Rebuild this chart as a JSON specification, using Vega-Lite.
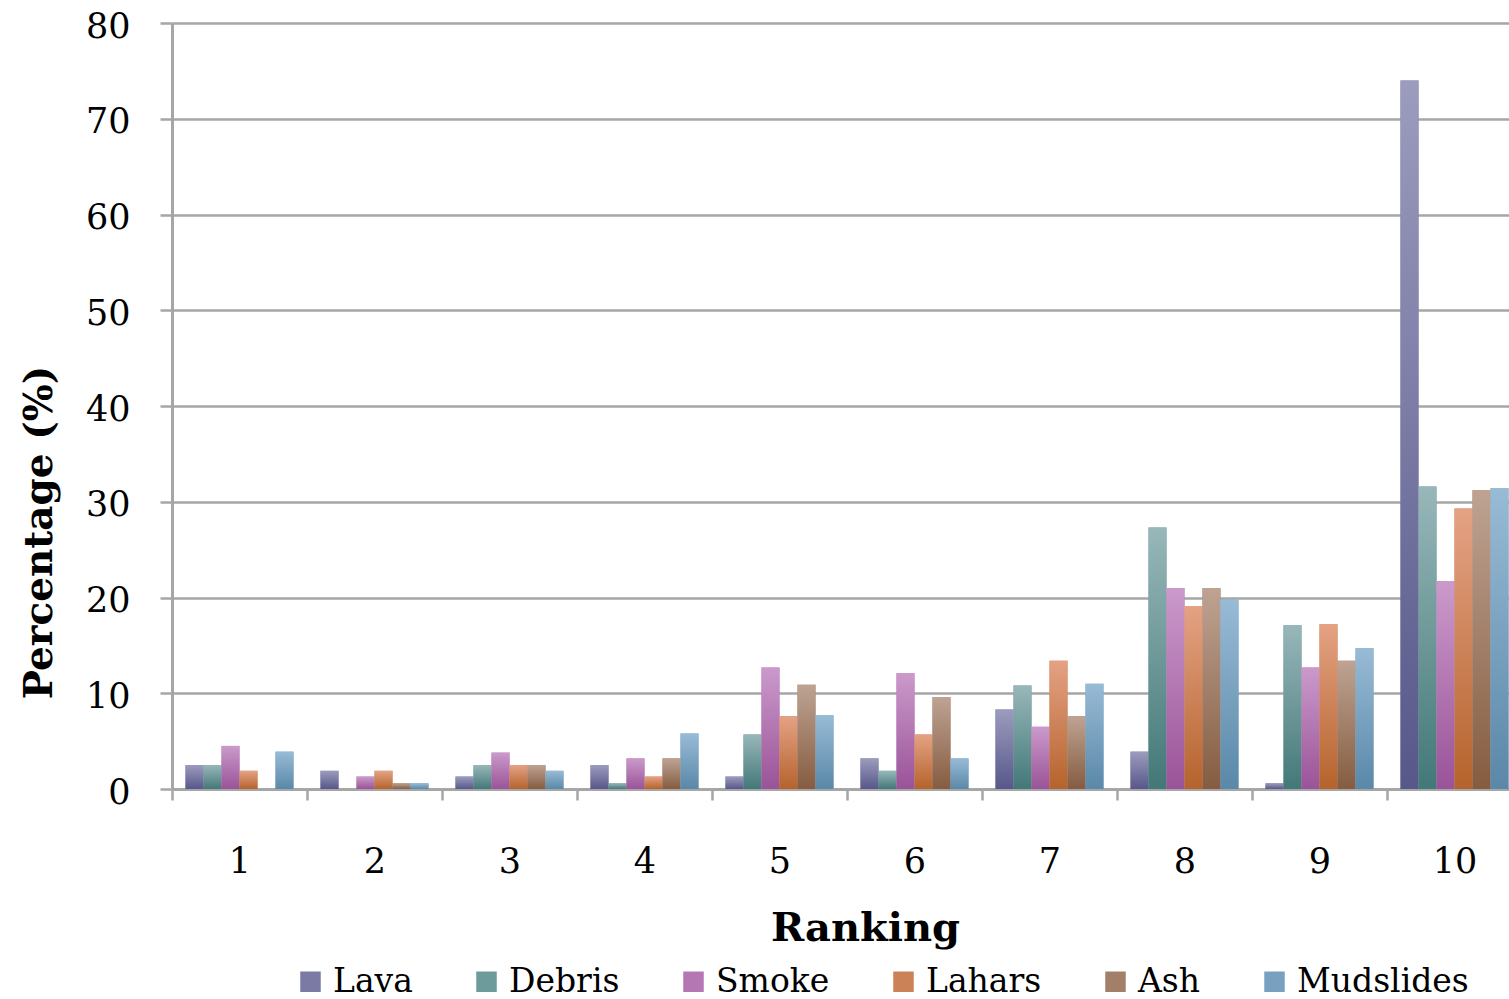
{
  "$schema": "https://vega.github.io/schema/vega-lite/v6.json",
  "autosize": "none",
  "padding": {"left": 172, "top": 23, "right": 0, "bottom": 210},
  "width": 1337,
  "height": 766,
  "background": "white",
  "config": {
    "font": "DejaVu Serif",
    "view": {"stroke": null}
  },
  "data": {
    "values": [
      {"Ranking": "1", "Hazard": "Lava", "Percentage": 2.5},
      {"Ranking": "1", "Hazard": "Debris", "Percentage": 2.5},
      {"Ranking": "1", "Hazard": "Smoke", "Percentage": 4.5},
      {"Ranking": "1", "Hazard": "Lahars", "Percentage": 1.9},
      {"Ranking": "1", "Hazard": "Ash", "Percentage": 0},
      {"Ranking": "1", "Hazard": "Mudslides", "Percentage": 3.9},
      {"Ranking": "2", "Hazard": "Lava", "Percentage": 1.9},
      {"Ranking": "2", "Hazard": "Debris", "Percentage": 0},
      {"Ranking": "2", "Hazard": "Smoke", "Percentage": 1.3},
      {"Ranking": "2", "Hazard": "Lahars", "Percentage": 1.9},
      {"Ranking": "2", "Hazard": "Ash", "Percentage": 0.6},
      {"Ranking": "2", "Hazard": "Mudslides", "Percentage": 0.6},
      {"Ranking": "3", "Hazard": "Lava", "Percentage": 1.3},
      {"Ranking": "3", "Hazard": "Debris", "Percentage": 2.5},
      {"Ranking": "3", "Hazard": "Smoke", "Percentage": 3.8},
      {"Ranking": "3", "Hazard": "Lahars", "Percentage": 2.5},
      {"Ranking": "3", "Hazard": "Ash", "Percentage": 2.5},
      {"Ranking": "3", "Hazard": "Mudslides", "Percentage": 1.9},
      {"Ranking": "4", "Hazard": "Lava", "Percentage": 2.5},
      {"Ranking": "4", "Hazard": "Debris", "Percentage": 0.6},
      {"Ranking": "4", "Hazard": "Smoke", "Percentage": 3.2},
      {"Ranking": "4", "Hazard": "Lahars", "Percentage": 1.3},
      {"Ranking": "4", "Hazard": "Ash", "Percentage": 3.2},
      {"Ranking": "4", "Hazard": "Mudslides", "Percentage": 5.8},
      {"Ranking": "5", "Hazard": "Lava", "Percentage": 1.3},
      {"Ranking": "5", "Hazard": "Debris", "Percentage": 5.7},
      {"Ranking": "5", "Hazard": "Smoke", "Percentage": 12.7},
      {"Ranking": "5", "Hazard": "Lahars", "Percentage": 7.6},
      {"Ranking": "5", "Hazard": "Ash", "Percentage": 10.9},
      {"Ranking": "5", "Hazard": "Mudslides", "Percentage": 7.7},
      {"Ranking": "6", "Hazard": "Lava", "Percentage": 3.2},
      {"Ranking": "6", "Hazard": "Debris", "Percentage": 1.9},
      {"Ranking": "6", "Hazard": "Smoke", "Percentage": 12.1},
      {"Ranking": "6", "Hazard": "Lahars", "Percentage": 5.7},
      {"Ranking": "6", "Hazard": "Ash", "Percentage": 9.6},
      {"Ranking": "6", "Hazard": "Mudslides", "Percentage": 3.2},
      {"Ranking": "7", "Hazard": "Lava", "Percentage": 8.3},
      {"Ranking": "7", "Hazard": "Debris", "Percentage": 10.8},
      {"Ranking": "7", "Hazard": "Smoke", "Percentage": 6.5},
      {"Ranking": "7", "Hazard": "Lahars", "Percentage": 13.4},
      {"Ranking": "7", "Hazard": "Ash", "Percentage": 7.6},
      {"Ranking": "7", "Hazard": "Mudslides", "Percentage": 11.0},
      {"Ranking": "8", "Hazard": "Lava", "Percentage": 3.9},
      {"Ranking": "8", "Hazard": "Debris", "Percentage": 27.3},
      {"Ranking": "8", "Hazard": "Smoke", "Percentage": 21.0},
      {"Ranking": "8", "Hazard": "Lahars", "Percentage": 19.1},
      {"Ranking": "8", "Hazard": "Ash", "Percentage": 21.0},
      {"Ranking": "8", "Hazard": "Mudslides", "Percentage": 19.8},
      {"Ranking": "9", "Hazard": "Lava", "Percentage": 0.6},
      {"Ranking": "9", "Hazard": "Debris", "Percentage": 17.1},
      {"Ranking": "9", "Hazard": "Smoke", "Percentage": 12.7},
      {"Ranking": "9", "Hazard": "Lahars", "Percentage": 17.2},
      {"Ranking": "9", "Hazard": "Ash", "Percentage": 13.4},
      {"Ranking": "9", "Hazard": "Mudslides", "Percentage": 14.7},
      {"Ranking": "10", "Hazard": "Lava", "Percentage": 74.0},
      {"Ranking": "10", "Hazard": "Debris", "Percentage": 31.6},
      {"Ranking": "10", "Hazard": "Smoke", "Percentage": 21.7},
      {"Ranking": "10", "Hazard": "Lahars", "Percentage": 29.3},
      {"Ranking": "10", "Hazard": "Ash", "Percentage": 31.2},
      {"Ranking": "10", "Hazard": "Mudslides", "Percentage": 31.4}
    ]
  },
  "encoding": {
    "x": {
      "field": "Ranking",
      "type": "ordinal",
      "sort": ["1", "2", "3", "4", "5", "6", "7", "8", "9", "10"],
      "scale": {"paddingInner": 0, "paddingOuter": 0, "range": [0, 1350]},
      "axis": {
        "title": "Ranking",
        "titleFont": "DejaVu Serif",
        "titleFontSize": 40,
        "titleFontWeight": "bold",
        "titleColor": "black",
        "titleX": 693,
        "titleY": 151,
        "titleBaseline": "alphabetic",
        "labelAngle": 0,
        "labelFontSize": 35,
        "labelColor": "black",
        "labelBaseline": "alphabetic",
        "labelPadding": 72,
        "bandPosition": 0,
        "tickBand": "extent",
        "ticks": true,
        "tickSize": 11,
        "tickColor": "#a6a6a6",
        "tickWidth": 2.5,
        "domainColor": "#a6a6a6",
        "domainWidth": 3,
        "grid": false
      }
    },
    "xOffset": {
      "field": "Hazard",
      "type": "nominal",
      "sort": ["Lava", "Debris", "Smoke", "Lahars", "Ash", "Mudslides"],
      "scale": {"paddingInner": 0, "paddingOuter": 0.75}
    },
    "y": {
      "field": "Percentage",
      "type": "quantitative",
      "scale": {"domain": [0, 80], "nice": false},
      "axis": {
        "title": "Percentage (%)",
        "titleFont": "DejaVu Serif",
        "titleFontSize": 39,
        "titleFontWeight": "bold",
        "titleColor": "black",
        "titleAngle": -90,
        "titleX": -133,
        "titleY": 509,
        "titleBaseline": "middle",
        "titleAlign": "center",
        "values": [0, 10, 20, 30, 40, 50, 60, 70, 80],
        "labelFontSize": 35,
        "labelColor": "black",
        "labelPadding": 30,
        "labelOffset": 3,
        "tickSize": 12,
        "tickColor": "#a6a6a6",
        "tickWidth": 2.5,
        "domainColor": "#a6a6a6",
        "domainWidth": 3,
        "grid": true,
        "gridColor": "#a6a6a6",
        "gridWidth": 2.5
      }
    }
  },
  "layer": [
    {
      "mark": {"type": "bar", "strokeWidth": 0},
      "encoding": {
        "color": {
          "field": "Hazard",
          "type": "nominal",
          "sort": ["Lava", "Debris", "Smoke", "Lahars", "Ash", "Mudslides"],
          "scale": {
            "domain": ["Lava", "Debris", "Smoke", "Lahars", "Ash", "Mudslides"],
            "range": ["#7a7aa4", "#6d9a9b", "#b577b4", "#cc8257", "#a27f69", "#79a1bf"]
          },
          "legend": {
            "title": null,
            "orient": "none",
            "legendX": 122,
            "legendY": 942,
            "direction": "horizontal",
            "columns": 6,
            "columnPadding": 57,
            "symbolType": "square",
            "symbolSize": 420,
            "symbolStrokeWidth": 0,
            "symbolOpacity": 1,
            "labelFontSize": 33,
            "labelColor": "black",
            "labelOffset": 6,
            "labelLimit": 400,
            "encode": {
              "symbols": {
                "update": {
                  "fill": {
                    "signal": "{gradient: 'linear', x1: 0, y1: 0, x2: 0, y2: 1, stops: [{offset: 0, color: datum.value === 'Lava' ? '#9c9cbe' : datum.value === 'Debris' ? '#98b7b9' : datum.value === 'Smoke' ? '#cb9acb' : datum.value === 'Lahars' ? '#e4a284' : datum.value === 'Ash' ? '#bea393' : '#98bbd6'}, {offset: 1, color: datum.value === 'Lava' ? '#57578a' : datum.value === 'Debris' ? '#437878' : datum.value === 'Smoke' ? '#9a5398' : datum.value === 'Lahars' ? '#b5632c' : datum.value === 'Ash' ? '#855c40' : '#5a88a8'}]}"
                  }
                }
              }
            }
          }
        }
      }
    },
    {
      "transform": [{"filter": "datum.Hazard === 'Lava'"}],
      "mark": {"type": "bar", "strokeWidth": 0, "color": {"gradient": "linear", "x1": 0, "y1": 0, "x2": 0, "y2": 1, "stops": [{"offset": 0, "color": "#9c9cbe"}, {"offset": 1, "color": "#57578a"}]}}
    },
    {
      "transform": [{"filter": "datum.Hazard === 'Debris'"}],
      "mark": {"type": "bar", "strokeWidth": 0, "color": {"gradient": "linear", "x1": 0, "y1": 0, "x2": 0, "y2": 1, "stops": [{"offset": 0, "color": "#98b7b9"}, {"offset": 1, "color": "#437878"}]}}
    },
    {
      "transform": [{"filter": "datum.Hazard === 'Smoke'"}],
      "mark": {"type": "bar", "strokeWidth": 0, "color": {"gradient": "linear", "x1": 0, "y1": 0, "x2": 0, "y2": 1, "stops": [{"offset": 0, "color": "#cb9acb"}, {"offset": 1, "color": "#9a5398"}]}}
    },
    {
      "transform": [{"filter": "datum.Hazard === 'Lahars'"}],
      "mark": {"type": "bar", "strokeWidth": 0, "color": {"gradient": "linear", "x1": 0, "y1": 0, "x2": 0, "y2": 1, "stops": [{"offset": 0, "color": "#e4a284"}, {"offset": 1, "color": "#b5632c"}]}}
    },
    {
      "transform": [{"filter": "datum.Hazard === 'Ash'"}],
      "mark": {"type": "bar", "strokeWidth": 0, "color": {"gradient": "linear", "x1": 0, "y1": 0, "x2": 0, "y2": 1, "stops": [{"offset": 0, "color": "#bea393"}, {"offset": 1, "color": "#855c40"}]}}
    },
    {
      "transform": [{"filter": "datum.Hazard === 'Mudslides'"}],
      "mark": {"type": "bar", "strokeWidth": 0, "color": {"gradient": "linear", "x1": 0, "y1": 0, "x2": 0, "y2": 1, "stops": [{"offset": 0, "color": "#98bbd6"}, {"offset": 1, "color": "#5a88a8"}]}}
    }
  ]
}
